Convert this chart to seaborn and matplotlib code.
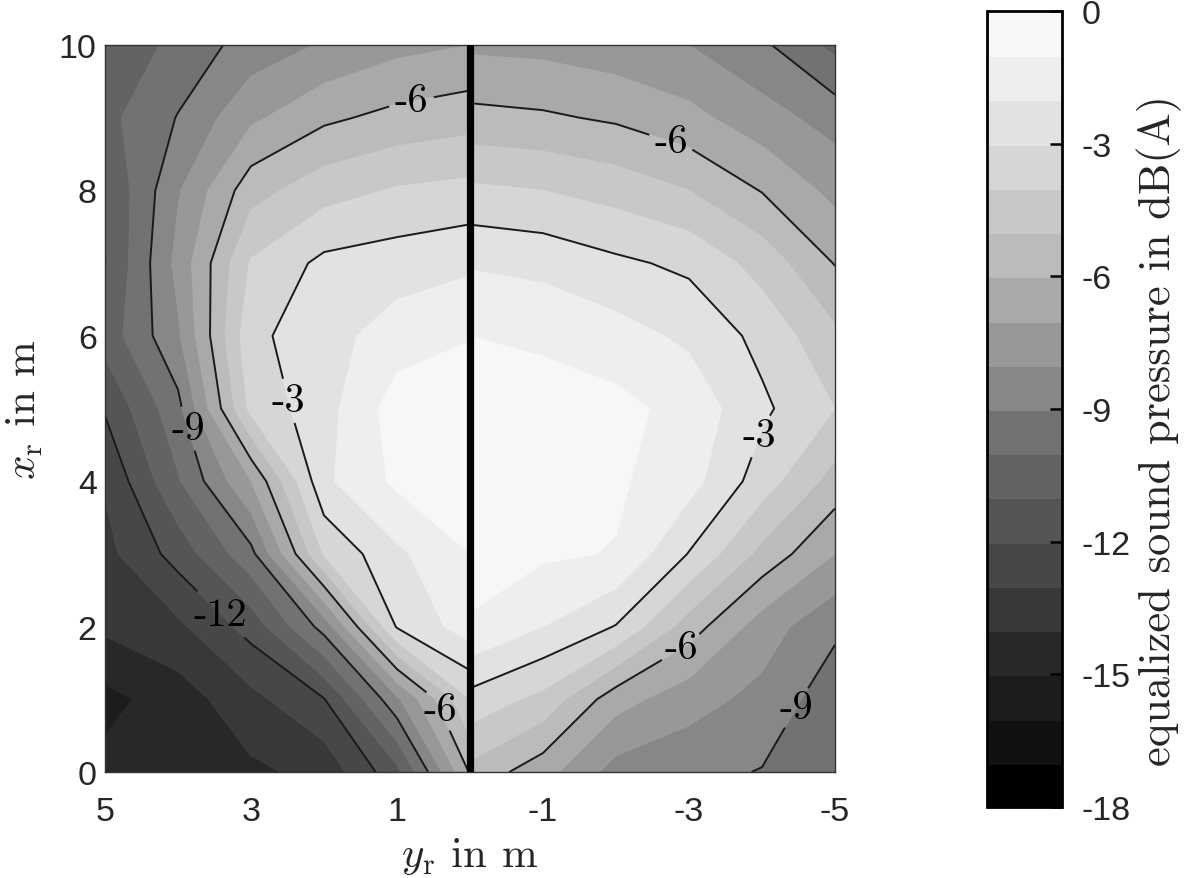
import numpy as np
import matplotlib
matplotlib.use("Agg")
import matplotlib.pyplot as plt
import seaborn as sns
from matplotlib.colors import ListedColormap, BoundaryNorm

# ---------------- data ----------------
x_r = [0, 1, 2, 3, 4, 5, 6, 7, 8, 9, 10]          # rows, m
y_left = [0, 1, 2, 3, 4, 5]                          # columns, left half, m
y_right = [0, -1, -2, -3, -4, -5]                    # columns, right half, m

# equalized sound pressure in dB(A), rows = x_r, columns = y_left
spl_left = [
    [-5.9, -11.3, -13.7, -14.2, -14.8, -14.7],
    [-4.0, -8.2, -12.05, -13.3, -14.5, -15.3],
    [-1.5, -2.9, -8.6, -11.6, -13.2, -13.8],
    [-1.0, -2.2, -3.9, -9.3, -11.6, -13.3],
    [-0.6, -0.8, -2.2, -7.0, -10.1, -12.9],
    [-0.4, -0.5, -2.4, -3.7, -9.3, -11.9],
    [-1.05, -1.5, -2.4, -3.25, -8.15, -10.6],
    [-2.2, -2.5, -2.75, -3.9, -7.7, -11.1],
    [-3.7, -3.9, -4.4, -5.4, -8.1, -11.0],
    [-5.4, -5.7, -6.2, -7.2, -8.95, -10.3],
    [-7.0, -7.3, -7.9, -8.6, -9.65, -11.0],
]
# rows = x_r, columns = y_right
spl_right = [
    [-5.3, -6.6, -8.4, -8.7, -9.05, -9.8],
    [-3.35, -4.3, -6.6, -7.6, -8.3, -9.6],
    [-1.05, -2.0, -3.05, -5.5, -7.5, -8.8],
    [-0.8, -0.85, -1.05, -3.05, -5.3, -7.0],
    [-0.5, -0.6, -0.85, -1.6, -3.5, -5.4],
    [-0.4, -0.5, -0.7, -1.35, -2.8, -4.0],
    [-1.0, -1.2, -1.6, -2.2, -3.3, -4.8],
    [-2.1, -2.3, -2.8, -3.22, -4.4, -6.05],
    [-3.8, -4.0, -4.4, -5.0, -6.05, -7.3],
    [-5.7, -5.85, -6.15, -6.7, -7.6, -8.4],
    [-7.2, -7.3, -7.6, -8.0, -8.8, -10.3],
]

fill_levels = list(range(-18, 1))
line_levels = [-12, -9, -6, -3]
cbar_ticks = [0, -3, -6, -9, -12, -15, -18]
cbar_ticklabels = ["0", "-3", "-6", "-9", "-12", "-15", "-18"]
x_ticks = [5, 3, 1, -1, -3, -5]
x_ticklabels = ["5", "3", "1", "-1", "-3", "-5"]
y_ticks = [0, 2, 4, 6, 8, 10]
y_ticklabels = ["0", "2", "4", "6", "8", "10"]

# ---------------- style ----------------
sns.set_theme(style="white")
plt.rcParams['axes.unicode_minus'] = False
plt.rcParams['mathtext.fontset'] = 'cm'
plt.rcParams['font.family'] = ['Liberation Sans', 'DejaVu Sans']

gray_vals = [0, 17, 28, 40, 56, 71, 85, 99, 114, 135, 152, 169, 187, 200,
             214, 226, 238, 247]
cmap = ListedColormap([(g / 255, g / 255, g / 255) for g in gray_vals])
norm = BoundaryNorm(fill_levels, cmap.N)

fig = plt.figure(figsize=(12, 8.79), dpi=100)
ax = fig.add_axes([105 / 1200, 1 - 773 / 879, 730 / 1200, 727 / 879])
cax = fig.add_axes([987 / 1200, 1 - 808 / 879, 75 / 1200, 796 / 879])

ax.set_xlim(5, -5)
ax.set_ylim(0, 10)

manual_pos = {
    "left": [(0.81, 9.26), (2.5, 5.1), (4.0, 4.68), (3.48, 2.1), (0.57, 0.78)],
    "right": [(-2.76, 8.69), (-4.03, 4.6), (-2.9, 1.7), (-4.27, 1.0)],
}

cf = None
for key, ys, z in [("left", y_left, spl_left), ("right", y_right, spl_right)]:
    cf = ax.contourf(ys, x_r, np.array(z), levels=fill_levels, cmap=cmap,
                     norm=norm, antialiased=True)
    cf.set_edgecolor('face')
    cf.set_linewidth(0.6)
    cs = ax.contour(ys, x_r, np.array(z), levels=line_levels, colors='k',
                    linewidths=1.4, linestyles='solid')
    with plt.rc_context({'font.family': 'cmr10'}):
        texts = ax.clabel(cs, manual=manual_pos[key], inline=True,
                          inline_spacing=6, fontsize=29,
                          fmt=lambda v: "%d" % v)
    for t in texts:
        t.set_rotation(0)
        t.set_fontfamily('cmr10')
        t.set_color('black')

ax.axvline(0, color='black', lw=5.2, zorder=5)

ax.set_xticks(x_ticks)
ax.set_xticklabels(x_ticklabels, fontsize=24.5)
ax.set_yticks(y_ticks)
ax.set_yticklabels(y_ticklabels, fontsize=24.5)
ax.tick_params(axis='x', length=0, pad=17)
ax.tick_params(axis='y', length=0, pad=6)
for s in ax.spines.values():
    s.set_color('#333333')
    s.set_linewidth(1.0)

ax.set_xlabel(r"$y_\mathrm{r}$ in m", fontfamily='cmr10', fontsize=31,
              labelpad=6)
ax.set_ylabel(r"$x_\mathrm{r}$ in m", fontfamily='cmr10', fontsize=31,
              labelpad=10)

cb = fig.colorbar(cf, cax=cax, ticks=cbar_ticks)
cb.ax.set_axisbelow(False)
cb.ax.minorticks_off()
cb.ax.set_yticklabels(cbar_ticklabels, fontsize=24.5)
cb.ax.yaxis.set_tick_params(which='major', direction='in', length=9,
                            width=1.8, color='black', right=True, left=False,
                            pad=14)
cb.outline.set_edgecolor('black')
cb.outline.set_linewidth(2.0)
if cb.solids is not None:
    cb.solids.set_edgecolor('face')
cb.set_label("equalized sound pressure in dB(A)", fontfamily='cmr10',
             fontsize=32, labelpad=8)
cb.ax.yaxis.set_label_coords(2.0, 0.474)

fig.savefig("out.png", dpi=100)
